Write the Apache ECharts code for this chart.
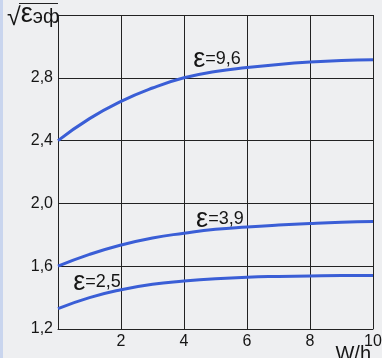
<!DOCTYPE html>
<html>
<head>
<meta charset="utf-8">
<script src="https://cdn.jsdelivr.net/npm/echarts@6/dist/echarts.min.js"></script>
<style>
html,body{margin:0;padding:0;background:#eeeff1;}
#c{width:382px;height:358px;}
</style>
</head>
<body>
<div id="c"></div>
<script>
var xValues = [0, 1, 2, 3, 4, 5, 6, 7, 8, 9, 10];
var eps96 = [2.40, 2.54, 2.65, 2.735, 2.80, 2.84, 2.865, 2.885, 2.90, 2.91, 2.915];
var eps39 = [1.60, 1.675, 1.735, 1.78, 1.81, 1.835, 1.85, 1.862, 1.872, 1.88, 1.885];
var eps25 = [1.33, 1.40, 1.45, 1.485, 1.505, 1.52, 1.53, 1.535, 1.538, 1.54, 1.54];
var seriesNames = ['9,6', '3,9', '2,5'];
var labelAt = [[5.05, 2.915], [5.14, 1.895], [1.24, 1.495]];
var yTicks = [1.2, 1.6, 2.0, 2.4, 2.8];
var xTicks = [2, 4, 6, 8, 10];
var yTitle = ['√', 'ε', 'эф'];
var xTitle = 'W/h';

var FONT = '"Liberation Sans", Arial, sans-serif';
var BLUE = '#3a5ed6';
var INK = '#151515';

function pairs(ys) { return xValues.map(function (x, i) { return [x, ys[i]]; }); }

function mkSeries(ys, name, at) {
  return {
    type: 'line', name: name, data: pairs(ys), smooth: true, showSymbol: false,
    lineStyle: { color: BLUE, width: 3 }, silent: true,
    markPoint: {
      symbol: 'circle', symbolSize: 0, silent: true,
      data: [{ coord: at, value: name }],
      label: {
        show: true, position: 'inside',
        formatter: '{e|ε}{t|=' + name + '}',
        rich: {
          e: { fontFamily: FONT, fontSize: 27, color: INK, verticalAlign: 'bottom' },
          t: { fontFamily: FONT, fontSize: 18, color: INK, verticalAlign: 'bottom', padding: [0, 0, 5, 0] }
        }
      }
    }
  };
}

var chart = echarts.init(document.getElementById('c'));
chart.setOption({
  backgroundColor: '#eeeff1',
  animation: false,
  grid: { left: 58, right: 9, top: 15, bottom: 29, containLabel: false, outerBoundsMode: 'none' },
  xAxis: {
    type: 'value', min: 0, max: 10, interval: 2,
    name: xTitle, nameLocation: 'end', nameMoveOverlap: false,
    nameTextStyle: { fontFamily: FONT, fontSize: 20, color: INK, align: 'right', verticalAlign: 'top', padding: [15, 2, 0, 0] },
    nameGap: 0,
    axisLine: { show: true, lineStyle: { color: '#222', width: 1 } },
    axisTick: { show: false },
    splitLine: { show: true, lineStyle: { color: '#222', width: 1 } },
    axisLabel: {
      fontFamily: FONT, fontSize: 16, color: INK, margin: 5,
      formatter: function (v) { return xTicks.indexOf(v) >= 0 ? String(v) : ''; }
    }
  },
  yAxis: {
    type: 'value', min: 1.2, max: 3.2, interval: 0.4,
    axisLine: { show: true, lineStyle: { color: '#222', width: 1 } },
    axisTick: { show: false },
    splitLine: { show: true, lineStyle: { color: '#222', width: 1 } },
    axisLabel: {
      fontFamily: FONT, fontSize: 16, color: INK, margin: 5,
      formatter: function (v) {
        var r = Math.round(v * 10) / 10;
        return yTicks.some(function (t) { return Math.abs(t - r) < 1e-6; }) ? r.toFixed(1).replace('.', ',') : '';
      }
    }
  },
  graphic: [
    { type: 'text', left: 7, top: 1, style: {
        text: '{r|' + yTitle[0] + '}{e|' + yTitle[1] + '}{s|' + yTitle[2] + '}',
        rich: {
          r: { fontFamily: FONT, fontSize: 25, fill: INK, verticalAlign: 'bottom', padding: [0, 0, 0, 0] },
          e: { fontFamily: FONT, fontSize: 27, fill: INK, verticalAlign: 'bottom', padding: [0, 0, 3, 0] },
          s: { fontFamily: FONT, fontSize: 20, fill: INK, verticalAlign: 'bottom', padding: [0, 0, 4, 0] }
        }
      } },
    { type: 'line', shape: { x1: 19, y1: 3.5, x2: 58, y2: 3.5 }, style: { stroke: '#222', lineWidth: 1.2 } },
    { type: 'rect', shape: { x: 0, y: 0, width: 3, height: 358 }, style: { fill: '#c9d5ee' } }
  ],
  series: [
    mkSeries(eps96, seriesNames[0], labelAt[0]),
    mkSeries(eps39, seriesNames[1], labelAt[1]),
    mkSeries(eps25, seriesNames[2], labelAt[2])
  ]
});
</script>
</body>
</html>
